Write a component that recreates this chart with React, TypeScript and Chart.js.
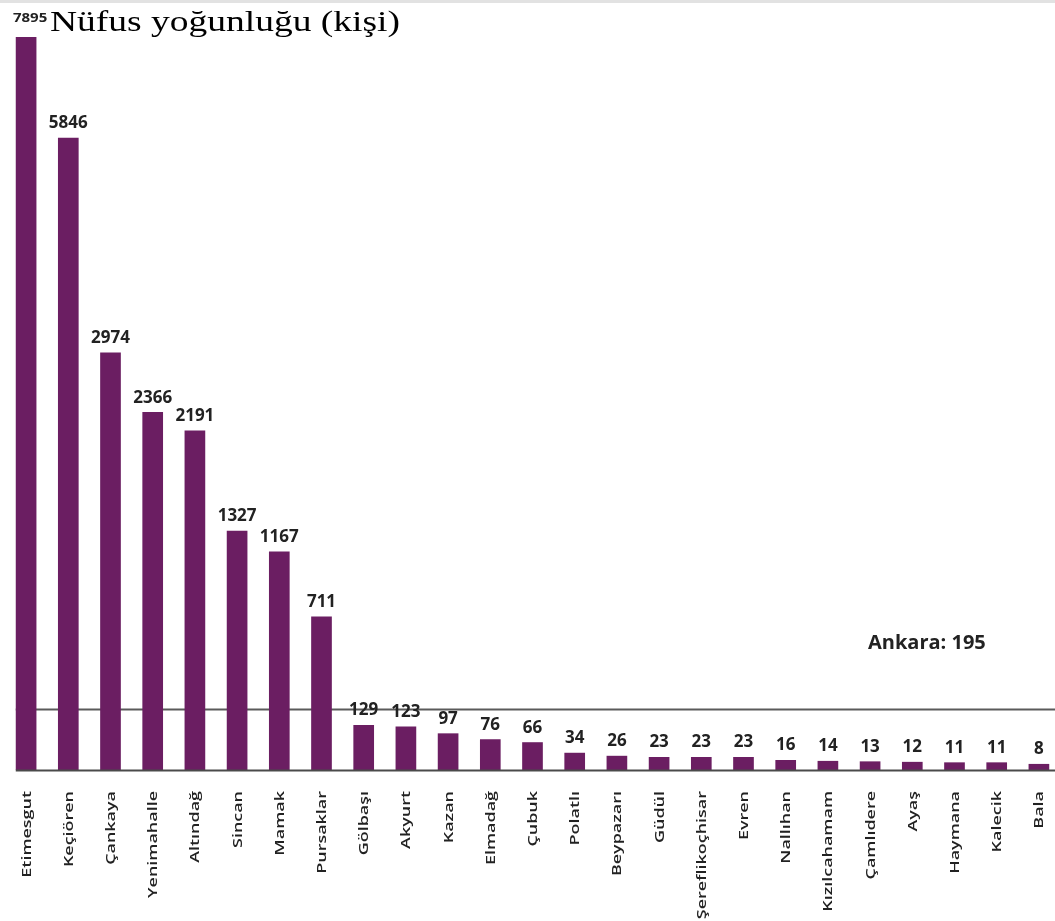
import { useEffect, useRef } from "react";
import { Chart, LinearScale, registerables } from "chart.js";

// Ankara districts, population density (people per km²)
const DISTRICTS = [
  "Etimesgut", "Keçiören", "Çankaya", "Yenimahalle", "Altındağ", "Sincan", "Mamak",
  "Pursaklar", "Gölbaşı", "Akyurt", "Kazan", "Elmadağ", "Çubuk", "Polatlı",
  "Beypazarı", "Güdül", "Şereflikoçhisar", "Evren", "Nallıhan", "Kızılcahamam",
  "Çamlıdere", "Ayaş", "Haymana", "Kalecik", "Bala",
];
const DENSITY = [
  7895, 5846, 2974, 2366, 2191, 1327, 1167, 711, 129, 123, 97, 76, 66, 34,
  26, 23, 23, 23, 16, 14, 13, 12, 11, 11, 8,
];
const ANKARA_AVG = 195;
const ANKARA_LABEL = "Ankara: 195";
const TITLE = "Nüfus yoğunluğu (kişi)";

const BAR_COLOR = "#6b1e62";
const TEXT_COLOR = "#222";

// the source graphic squeezes the tall bars, so the value axis is bent a little
const bend = (v: number) => {
  const u = Math.max(v, 0);
  return Math.pow(u, 0.72) / (1 + Math.pow(u / 20000, 1.8));
};

class CompressedScale extends LinearScale {
  static id = "compressed";
  static defaults = {};

  getPixelForValue(value: number) {
    const lo = bend(this.min);
    const hi = bend(this.max);
    return this.getPixelForDecimal((bend(value) - lo) / (hi - lo));
  }

  getValueForPixel(pixel: number) {
    const lo = bend(this.min);
    const hi = bend(this.max);
    const target = lo + this.getDecimalForPixel(pixel) * (hi - lo);
    let a = this.min;
    let b = this.max;
    for (let k = 0; k < 40; k++) {
      const m = (a + b) / 2;
      if (bend(m) < target) a = m;
      else b = m;
    }
    return (a + b) / 2;
  }
}

Chart.register(...registerables, CompressedScale);

const overlayPlugin = {
  id: "densityOverlay",
  beforeDatasetsDraw(chart: any) {
    const { ctx, scales } = chart;
    const first = chart.getDatasetMeta(0).data[0];
    const x0 = first.x - first.width / 2;
    const yAvg = scales.y.getPixelForValue(ANKARA_AVG);
    ctx.save();
    ctx.strokeStyle = "#5a5a5a";
    ctx.lineWidth = 2;
    ctx.beginPath();
    ctx.moveTo(x0, yAvg);
    ctx.lineTo(chart.width, yAvg);
    ctx.stroke();
    ctx.restore();
  },
  afterDatasetsDraw(chart: any) {
    const { ctx, chartArea, scales } = chart;
    const bars = chart.getDatasetMeta(0).data;
    const x0 = bars[0].x - bars[0].width / 2;

    ctx.save();

    // light band along the top edge
    ctx.fillStyle = "#e2e2e2";
    ctx.fillRect(0, 0, chart.width, 3);

    // baseline
    ctx.strokeStyle = "#4a4a4a";
    ctx.lineWidth = 2;
    ctx.beginPath();
    ctx.moveTo(x0, chartArea.bottom + 0.5);
    ctx.lineTo(chart.width, chartArea.bottom + 0.5);
    ctx.stroke();

    // value labels
    ctx.fillStyle = TEXT_COLOR;
    ctx.textAlign = "center";
    ctx.textBaseline = "alphabetic";
    bars.forEach((bar: any, i: number) => {
      ctx.save();
      if (i === 0) {
        // the peak value sits squeezed next to the title
        ctx.font = '700 12px "Open Sans"';
        ctx.translate(bar.x + 4, 22);
        ctx.scale(1.25, 1);
      } else {
        ctx.font = '700 17px "Open Sans"';
        ctx.translate(bar.x, bar.y - 9.5);
      }
      ctx.fillText(String(DENSITY[i]), 0, 0);
      ctx.restore();
    });

    // category labels, rotated and stretched like the source
    ctx.font = '600 13px "Open Sans"';
    ctx.textAlign = "right";
    DISTRICTS.forEach((name, i) => {
      const x = scales.x.getPixelForValue(i);
      ctx.save();
      ctx.translate(x + 4.5, chartArea.bottom + 21);
      ctx.rotate(-Math.PI / 2);
      ctx.scale(1.38, 1);
      ctx.fillText(name, 0, 0);
      ctx.restore();
    });

    // average annotation
    ctx.font = '700 20px "Open Sans"';
    ctx.textAlign = "left";
    ctx.fillText(ANKARA_LABEL, chartArea.right - 192, chartArea.bottom - 121);

    // title
    ctx.fillStyle = "#000";
    ctx.font = '30px "Liberation Serif", "Times New Roman", serif';
    const w = ctx.measureText(TITLE).width;
    ctx.translate(50, 31);
    ctx.scale(350 / w, 1);
    ctx.fillText(TITLE, 0, 0);

    ctx.restore();
  },
};

export default function App() {
  const canvasRef = useRef<HTMLCanvasElement | null>(null);

  useEffect(() => {
    if (!canvasRef.current) return;
    const chart = new Chart(canvasRef.current, {
      type: "bar",
      data: {
        labels: DISTRICTS,
        datasets: [
          {
            label: "Nüfus yoğunluğu",
            data: DENSITY,
            backgroundColor: BAR_COLOR,
            borderWidth: 0,
            barPercentage: 0.49,
            categoryPercentage: 1,
          },
        ],
      },
      options: {
        responsive: true,
        maintainAspectRatio: false,
        animation: false,
        layout: { padding: { left: 5, right: 0, top: 37, bottom: 151 } },
        plugins: {
          legend: { display: false },
          tooltip: { enabled: true },
        },
        scales: {
          x: { display: false },
          y: {
            type: "compressed" as any,
            display: false,
            min: 0,
            max: Math.max(...DENSITY),
          },
        },
      },
      plugins: [overlayPlugin],
    });
    return () => chart.destroy();
  }, []);

  return (
    <div
      style={{
        position: "fixed",
        left: 0,
        top: 0,
        width: 1055,
        height: 921,
        overflow: "hidden",
        background: "#fff",
      }}
    >
      <div style={{ position: "relative", width: 1060, height: 921 }}>
        <canvas ref={canvasRef} />
      </div>
    </div>
  );
}
